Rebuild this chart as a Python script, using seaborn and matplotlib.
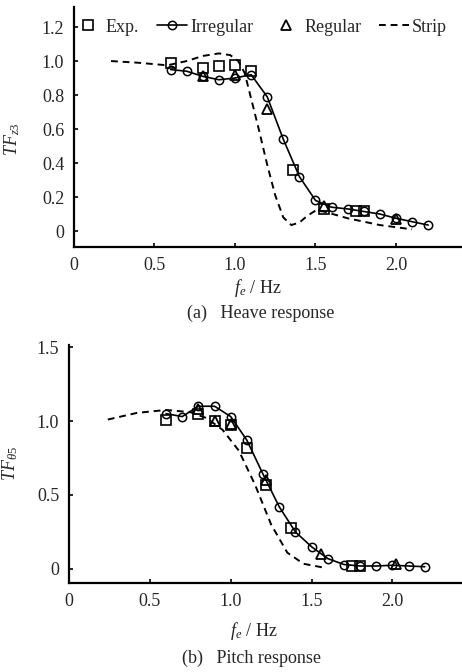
import matplotlib
matplotlib.use("Agg")
import matplotlib.pyplot as plt
import seaborn as sns

# ---- data ----
freq_irr = [0.6, 0.7, 0.8, 0.9, 1.0, 1.1, 1.2, 1.3, 1.4, 1.5, 1.6, 1.7, 1.8, 1.9, 2.0, 2.1, 2.2]

heave_irr = [0.95, 0.94, 0.91, 0.89, 0.90, 0.92, 0.79, 0.54, 0.32, 0.18, 0.14, 0.13,
             0.115, 0.10, 0.075, 0.055, 0.035]
heave_exp_f = [0.6, 0.8, 0.9, 1.0, 1.1, 1.36, 1.55, 1.75, 1.8]
heave_exp = [0.99, 0.96, 0.97, 0.975, 0.94, 0.36, 0.13, 0.115, 0.115]
heave_reg_f = [0.8, 1.0, 1.2, 1.55, 2.0]
heave_reg = [0.91, 0.92, 0.72, 0.15, 0.07]
heave_strip_f = [0.23, 0.4, 0.58, 0.7, 0.8, 0.9, 0.97, 1.02, 1.06, 1.1, 1.15, 1.2, 1.25,
                 1.3, 1.35, 1.4, 1.45, 1.5, 1.55, 1.7, 1.9, 2.1]
heave_strip = [1.0, 0.99, 0.975, 1.0, 1.03, 1.045, 1.035, 1.0, 0.93, 0.78, 0.59, 0.39, 0.21,
               0.08, 0.035, 0.05, 0.09, 0.12, 0.115, 0.075, 0.035, 0.01]

pitch_irr = [1.05, 1.03, 1.10, 1.10, 1.03, 0.87, 0.64, 0.42, 0.25, 0.15, 0.07, 0.03,
             0.02, 0.02, 0.025, 0.02, 0.015]
pitch_exp_f = [0.6, 0.8, 0.9, 1.0, 1.1, 1.22, 1.37, 1.75, 1.8]
pitch_exp = [1.01, 1.05, 1.0, 0.97, 0.82, 0.57, 0.28, 0.02, 0.02]
pitch_reg_f = [0.8, 0.9, 1.0, 1.22, 1.56, 2.02]
pitch_reg = [1.08, 1.0, 0.98, 0.60, 0.10, 0.035]
pitch_strip_f = [0.24, 0.42, 0.6, 0.75, 0.85, 0.95, 1.05, 1.15, 1.25, 1.35, 1.45, 1.57]
pitch_strip = [1.01, 1.055, 1.075, 1.06, 1.02, 0.94, 0.80, 0.57, 0.30, 0.11, 0.035, 0.01]

x_ticks = [0, 0.5, 1.0, 1.5, 2.0]
x_labels = ["0", "0.5", "1.0", "1.5", "2.0"]
heave_ticks = [0, 0.2, 0.4, 0.6, 0.8, 1.0, 1.2]
heave_labels = ["0", "0.2", "0.4", "0.6", "0.8", "1.0", "1.2"]
pitch_ticks = [0, 0.5, 1.0, 1.5]
pitch_labels = ["0", "0.5", "1.0", "1.5"]

sns.set_theme(style="white")
plt.rcParams["font.family"] = ["Liberation Serif", "DejaVu Serif"]
plt.rcParams["mathtext.fontset"] = "custom"
plt.rcParams["mathtext.rm"] = "Liberation Serif"
plt.rcParams["mathtext.it"] = "Liberation Serif:italic"
plt.rcParams["font.size"] = 13

W, H = 462, 672
fig = plt.figure(figsize=(W / 100, H / 100), dpi=100)
ax1 = fig.add_axes([74 / W, 1 - 247 / H, (W - 74) / W, 240 / H])
ax2 = fig.add_axes([69 / W, 1 - 583 / H, (W - 69) / W, 238 / H])


def draw(ax, irr, exp_f, exp, reg_f, reg, strip_f, strip):
    sns.lineplot(x=exp_f, y=exp, ax=ax, color="black", linestyle="none", marker="s",
                 markersize=6.5, markerfacecolor="none", markeredgecolor="black",
                 markeredgewidth=1.2, label="Exp.")
    sns.lineplot(x=freq_irr, y=irr, ax=ax, color="black", linewidth=1.2, marker="o",
                 markersize=6, markerfacecolor="none", markeredgecolor="black",
                 markeredgewidth=1.1, label="Irregular")
    sns.lineplot(x=reg_f, y=reg, ax=ax, color="black", linestyle="none", marker="^",
                 markersize=7.5, markerfacecolor="none", markeredgecolor="black",
                 markeredgewidth=1.3, label="Regular")
    sns.lineplot(x=strip_f, y=strip, ax=ax, color="black", linewidth=1.4,
                 dashes=(3.5, 2.5), label="Strip")
    for s in ["top", "right"]:
        ax.spines[s].set_visible(False)
    for s in ["left", "bottom"]:
        ax.spines[s].set_linewidth(1.6)
        ax.spines[s].set_color("black")
    ax.tick_params(direction="in", length=3, width=1.2, color="black",
                   labelsize=13, pad=7, left=True, bottom=True)
    ax.set_xticks(x_ticks, x_labels)
    ax.set_xlabel("")
    ax.set_facecolor("white")


draw(ax1, heave_irr, heave_exp_f, heave_exp, heave_reg_f, heave_reg,
     heave_strip_f, heave_strip)
ax1.set_xlim(0, 2.41)
ax1.set_ylim(-0.094, 1.318)
ax1.set_yticks(heave_ticks, heave_labels)
ax1.set_ylabel(r"$TF_{z3}$", fontsize=13)
ax1.yaxis.set_label_coords(-0.134, 0.45)
handles, labels = ax1.get_legend_handles_labels()
ax1.legend(handles, labels, loc="center left", bbox_to_anchor=(73 / W, 1 - 27 / H),
           bbox_transform=fig.transFigure, ncol=4, frameon=False, borderpad=0,
           borderaxespad=0, handlelength=1.65, handletextpad=0.17,
           columnspacing=1.0, fontsize=13)

draw(ax2, pitch_irr, pitch_exp_f, pitch_exp, pitch_reg_f, pitch_reg,
     pitch_strip_f, pitch_strip)
ax2.set_xlim(0, 2.43)
ax2.set_ylim(-0.095, 1.514)
ax2.set_yticks(pitch_ticks, pitch_labels)
ax2.set_ylabel(r"$TF_{\theta5}$", fontsize=13)
ax2.yaxis.set_label_coords(-0.125, 0.5)
ax2.get_legend().remove()

fig.text(258 / W, 1 - 288 / H, r"$f_e$ / Hz", ha="center", va="center", fontsize=13)
fig.text(261 / W, 1 - 313 / H, "(a)   Heave response", ha="center", va="center", fontsize=13)
fig.text(254 / W, 1 - 631 / H, r"$f_e$ / Hz", ha="center", va="center", fontsize=13)
fig.text(252 / W, 1 - 658 / H, "(b)   Pitch response", ha="center", va="center", fontsize=13)

fig.savefig("out.png", dpi=100, facecolor="white")
